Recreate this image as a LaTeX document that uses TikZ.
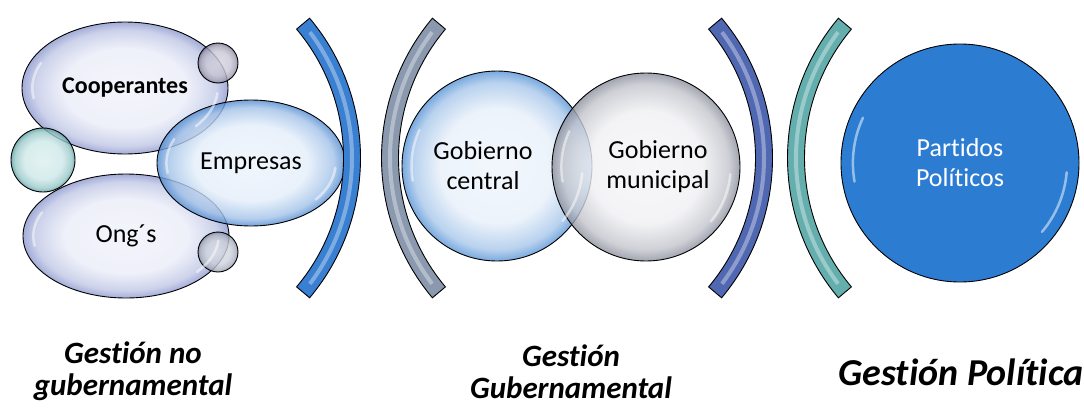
\documentclass[tikz,border=0pt]{standalone}
\usepackage{fontspec}
\setmainfont{Carlito}[Ligatures=NoCommon]
\usetikzlibrary{shapes.geometric}

\colorlet{bubin}{white}
\colorlet{bubout}{gray}
\pgfdeclareradialshading[bubin,bubout]{bubble}{\pgfpoint{0bp}{0bp}}{%
  color(0bp)=(bubin!70!white); color(15bp)=(bubin); color(22bp)=(bubin!55!bubout);
  color(25bp)=(bubout); color(50bp)=(bubout)}

\definecolor{lavin}{RGB}{234,237,248}
\definecolor{lavout}{RGB}{140,152,206}
\definecolor{empin}{RGB}{228,238,250}
\definecolor{empout}{RGB}{82,140,210}
\definecolor{tealin}{RGB}{205,232,232}
\definecolor{tealout}{RGB}{92,160,162}
\definecolor{dotTin}{RGB}{200,198,212}
\definecolor{dotTout}{RGB}{118,112,140}
\definecolor{dotBin}{RGB}{205,210,220}
\definecolor{dotBout}{RGB}{128,136,154}
\definecolor{cenin}{RGB}{232,240,250}
\definecolor{cenout}{RGB}{88,148,215}
\definecolor{munin}{RGB}{240,240,243}
\definecolor{munout}{RGB}{138,143,156}
\definecolor{partblue}{RGB}{44,125,210}
\definecolor{bandA}{RGB}{58,128,210}
\definecolor{bandB}{RGB}{138,153,174}
\definecolor{bandC}{RGB}{80,104,178}
\definecolor{bandD}{RGB}{100,174,174}

\tikzset{
  bub/.style 2 args={draw=black, line width=0.9pt, shading=bubble,
    /utils/exec={\colorlet{bubin}{#1}\colorlet{bubout}{#2}},
    fill opacity=0.8, text opacity=1, inner sep=0pt, align=center,
    font=\fontsize{26}{30}\selectfont},
  bubtext/.style={align=center, font=\fontsize{26}{30}\selectfont, xshift=#1},
  band/.style={draw=black, line width=0.9pt, fill=#1},
  shine/.style={white, opacity=0.35, line width=4pt},
  glint/.style={white, opacity=0.5, line width=2.5pt, line cap=round},
  gestion/.style={align=center, font=\fontsize{31}{32}\selectfont\bfseries\itshape}
}

\begin{document}
\begin{tikzpicture}[x=1pt, y=1pt]
  \useasboundingbox (0,0) rectangle (1084,-407);

  % gestion no gubernamental
  \node[bub={lavin}{lavout}, ellipse, minimum width=206, minimum height=132,
        font=\fontsize{24}{29}\selectfont\bfseries] (coop) at (125,-88) {Cooperantes};
  \node[bub={lavin}{lavout}, ellipse, minimum width=206, minimum height=124] (ongs) at (126,-236) {Ong´s};
  \node[bub={tealin}{tealout}, circle, minimum size=64] (dotL) at (43,-160) {};
  \node[bub={empin}{empout}, ellipse, minimum width=188, minimum height=126] (empr) at (251,-163) {Empresas};
  \node[bub={dotTin}{dotTout}, circle, minimum size=40] (dotT) at (218,-63) {};
  \node[bub={dotBin}{dotBout}, circle, minimum size=40] (dotB) at (218,-252) {};

  % gestion gubernamental
  \node[bub={cenin}{cenout}, circle, minimum size=190] (gcen) at (497,-166) {};
  \node[bub={munin}{munout}, circle, minimum size=188] (gmun) at (646,-167) {};
  \node[bubtext=-14pt] (gcenT) at (gcen) {Gobierno\\central};
  \node[bubtext=12pt] (gmunT) at (gmun) {Gobierno\\municipal};

  % gestion politica
  \node[circle, draw=black, line width=0.9pt, fill=partblue, minimum size=238, inner sep=0pt,
        align=center, text=white, font=\fontsize{26}{30}\selectfont] (part) at (960,-163) {Partidos\\Políticos};

  \foreach \n/\rx/\ry in {coop/103/66, ongs/103/62, empr/94/63, gcen/95/95, gmun/94/94, part/119/119} {
    \draw[glint] (\n.center) ++(155:{0.9*\rx} and {0.9*\ry})
      arc[start angle=155, end angle=190, x radius={0.9*\rx}, y radius={0.9*\ry}];
    \draw[glint] (\n.center) ++(-40:{0.9*\rx} and {0.9*\ry})
      arc[start angle=-40, end angle=-5, x radius={0.9*\rx}, y radius={0.9*\ry}];
  }

  % brackets
  \coordinate (arcA) at (143,-158);
  \coordinate (arcB) at (599,-158);
  \coordinate (arcC) at (555,-158);
  \coordinate (arcD) at (1005,-158);
  \draw[band=bandA] (arcA) ++(-40:200.5) arc[start angle=-40, end angle=40, radius=200.5]
    -- ++(40:17) arc[start angle=40, end angle=-40, radius=217.5] -- cycle;
  \draw[shine] (arcA) ++(-37:209) arc[start angle=-37, end angle=37, radius=209];
  \draw[band=bandB] (arcB) ++(140:200.5) arc[start angle=140, end angle=220, radius=200.5]
    -- ++(220:17) arc[start angle=220, end angle=140, radius=217.5] -- cycle;
  \draw[shine] (arcB) ++(143:209) arc[start angle=143, end angle=217, radius=209];
  \draw[band=bandC] (arcC) ++(-40:200.5) arc[start angle=-40, end angle=40, radius=200.5]
    -- ++(40:17) arc[start angle=40, end angle=-40, radius=217.5] -- cycle;
  \draw[shine] (arcC) ++(-37:209) arc[start angle=-37, end angle=37, radius=209];
  \draw[band=bandD] (arcD) ++(140:200.5) arc[start angle=140, end angle=220, radius=200.5]
    -- ++(220:17) arc[start angle=220, end angle=140, radius=217.5] -- cycle;
  \draw[shine] (arcD) ++(143:209) arc[start angle=143, end angle=217, radius=209];

  % labels
  \node[gestion] (lblA) at (133,-371) {Gestión no\\gubernamental};
  \node[gestion] (lblB) at (571,-372) {Gestión\\Gubernamental};
  \node[gestion, font=\fontsize{38}{40}\selectfont\bfseries\itshape] (lblC) at (961,-372) {Gestión Política};
\end{tikzpicture}
\end{document}
